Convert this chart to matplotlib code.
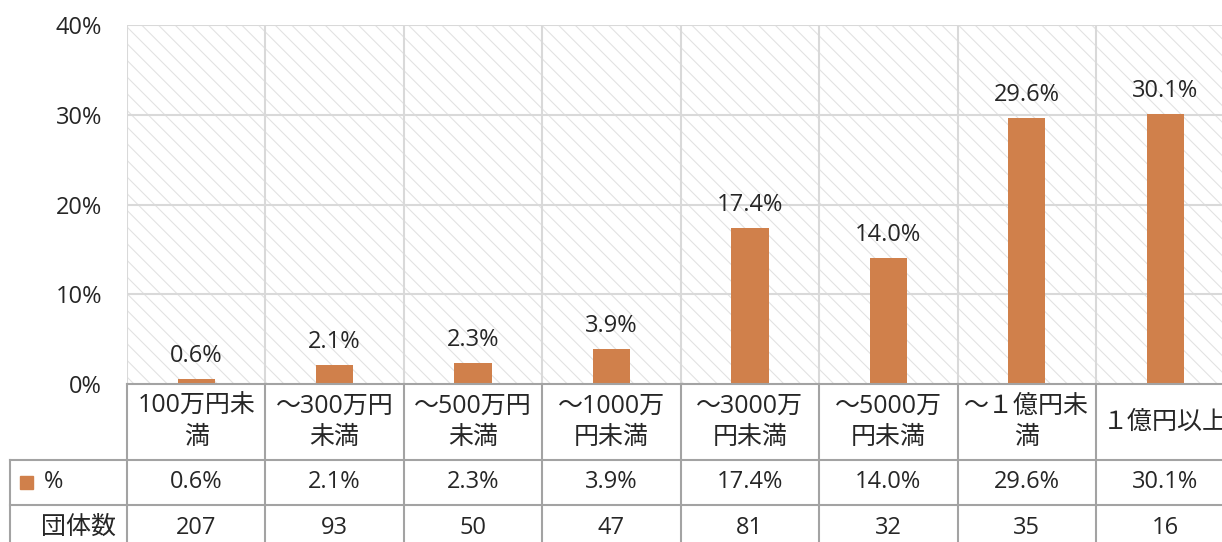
import numpy as np
import matplotlib.pyplot as plt
from matplotlib.patches import Rectangle

plt.rcParams['font.family'] = ['Open Sans', 'Noto Sans CJK JP', 'DejaVu Sans']
plt.rcParams['hatch.linewidth'] = 0.8

# data
categories = ["100万円未\n満", "～300万円\n未満", "～500万円\n未満", "～1000万\n円未満",
              "～3000万\n円未満", "～5000万\n円未満", "～１億円未\n満", "１億円以上"]
percent = [0.6, 2.1, 2.3, 3.9, 17.4, 14.0, 29.6, 30.1]
counts = [207, 93, 50, 47, 81, 32, 35, 16]
yticks = [0, 10, 20, 30, 40]

bar_color = '#D0804B'
text_color = '#262626'
grid_color = '#d9d9d9'
table_color = '#a3a3a3'
fs = 17

W, H = 1222, 542
fig = plt.figure(figsize=(W / 100, H / 100), dpi=100)

col_w = 138.43                          # pixel width of one category column
x0, y_top, y_zero = 127, 25, 384        # plot area in pixels
n = len(categories)

# ---- main chart ----
ax = fig.add_axes([x0 / W, (H - y_zero) / H, col_w * n / W, (y_zero - y_top) / H])
x = np.arange(n)
ax.add_patch(Rectangle((0, 0), 1, 1, transform=ax.transAxes, facecolor='white',
                       edgecolor='#e2e2e2', linewidth=0, hatch='\\\\', zorder=0))
for yv in yticks[1:]:
    ax.axhline(yv, color=grid_color, lw=1.5, zorder=1)
for b in np.arange(n + 1) - 0.5:
    ax.axvline(b, color=grid_color, lw=1.5, zorder=1)

bars = ax.bar(x, percent, width=0.27, color=bar_color, zorder=2)
ax.bar_label(bars, labels=[f"{v:.1f}%" for v in percent], padding=8,
             fontsize=fs, color=text_color)

ax.set_xlim(-0.5, n - 0.5)
ax.set_ylim(0, 40)
ax.set_yticks(yticks)
ax.set_yticklabels([f"{v}%" for v in yticks], fontsize=fs, color=text_color)
ax.tick_params(axis='y', length=0, pad=18)
ax.set_xticks([])
for s in ['top', 'right', 'left']:
    ax.spines[s].set_visible(False)
ax.spines['bottom'].set_color(table_color)
ax.spines['bottom'].set_linewidth(1.5)

# ---- data table ----
tx0 = 10
left_w = (x0 - tx0) / col_w
row_h = [76, 45, 45]
tot_h = sum(row_h)
tax = fig.add_axes([tx0 / W, (H - y_zero - tot_h) / H, (x0 - tx0 + col_w * n) / W, tot_h / H])
tax.set_xlim(-0.5 - left_w, n - 0.5)
tax.set_ylim(tot_h, 0)
tax.axis('off')

r1, r2 = row_h[0], row_h[0] + row_h[1]
for b in np.arange(n + 1) - 0.5:
    tax.plot([b, b], [0, tot_h], color=table_color, lw=1.5, clip_on=False)
tax.plot([-0.5 - left_w] * 2, [r1, tot_h], color=table_color, lw=1.5, clip_on=False)
for yy in [r1, r2]:
    tax.plot([-0.5 - left_w, n - 0.5], [yy, yy], color=table_color, lw=1.5, clip_on=False)

for i in range(n):
    tax.text(i, r1 / 2, categories[i], ha='center', va='center', fontsize=fs + 1,
             color=text_color, linespacing=1.3)
    tax.text(i, (r1 + r2) / 2, f"{percent[i]:.1f}%", ha='center', va='center',
             fontsize=fs, color=text_color)
    tax.text(i, (r2 + tot_h) / 2, str(counts[i]), ha='center', va='center',
             fontsize=fs, color=text_color)

# legend key + row labels
key_x = -0.5 - left_w + 10 / col_w
tax.add_patch(Rectangle((key_x, (r1 + r2) / 2 - 6.5), 13 / col_w, 13, color=bar_color))
tax.text(-0.5 - left_w + 34 / col_w, (r1 + r2) / 2, "%", ha='left', va='center',
         fontsize=fs, color=text_color)
tax.text(-0.5 - left_w + 31 / col_w, (r2 + tot_h) / 2, "団体数", ha='left', va='center',
         fontsize=fs + 1, color=text_color)

fig.savefig("out.png", dpi=100)
